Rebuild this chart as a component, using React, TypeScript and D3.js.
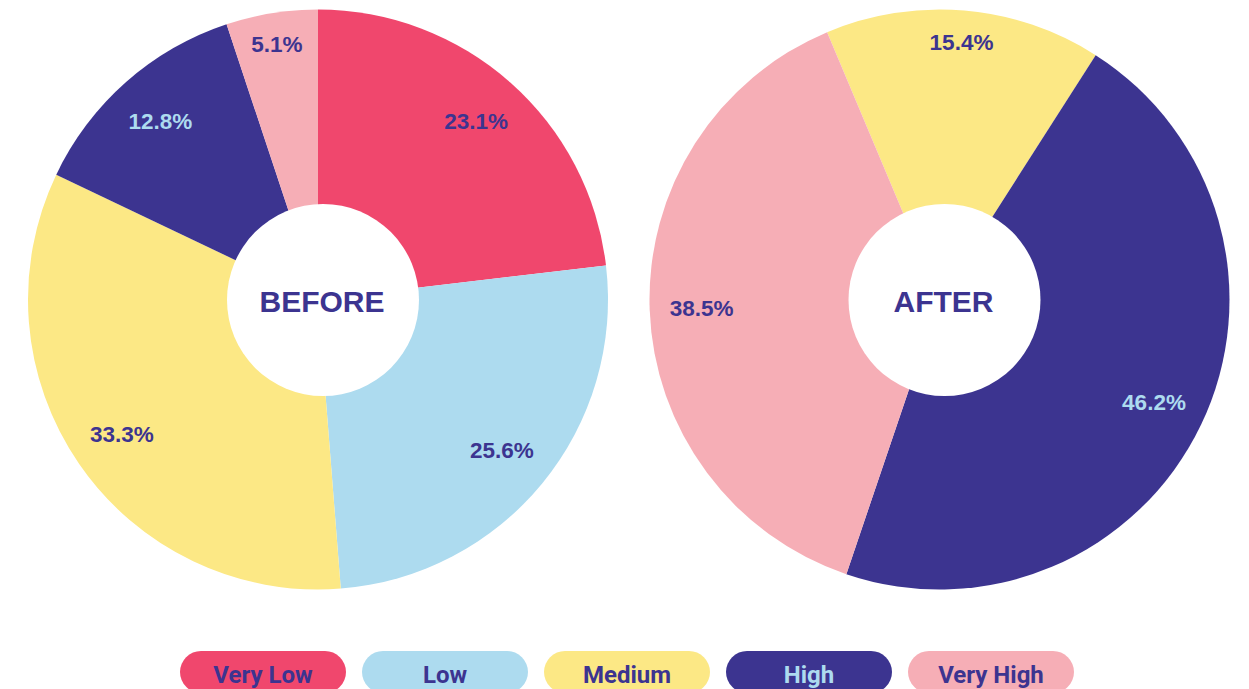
import React, { useRef, useEffect } from 'react'
import * as d3 from 'd3'

// categories and colours
const categories = ['Very Low', 'Low', 'Medium', 'High', 'Very High']
const sliceColors = ['#F0476D', '#ADDBEF', '#FCE885', '#3C3490', '#F6AEB6']
const labelColors = ['#3C3490', '#3C3490', '#3C3490', '#ADDBEF', '#3C3490']

// percent values per category
const beforeValues = [23.1, 25.6, 33.3, 12.8, 5.1]
const afterValues = [0, 0, 15.4, 46.2, 38.5]

const pieTitles = ['BEFORE', 'AFTER']

const W = 1249
const H = 689

export default function App() {
    const svgRef = useRef<SVGSVGElement>(null)

    useEffect(() => {
        const svg = d3.select(svgRef.current)
        svg.selectAll('*').remove()

        const radius = 290
        const holeR = 96
        const cy = 299.5
        const centers = [318, 939.5]
        const starts = [0, (-22.8 * Math.PI) / 180]

        const arc = d3.arc<d3.PieArcDatum<number>>().innerRadius(0).outerRadius(radius)

        const labelR = (a: number) => (Math.cos(a) > 0.95 ? 258 : 238)

        ;[beforeValues, afterValues].forEach((values, k) => {
            const pie = d3
                .pie<number>()
                .sort(null)
                .value((d) => d)
                .startAngle(starts[k])
                .endAngle(starts[k] + Math.PI * 2)
            const arcs = pie(values)

            const g = svg.append('g').attr('transform', `translate(${centers[k]},${cy})`)

            g.selectAll('path')
                .data(arcs)
                .enter()
                .append('path')
                .attr('d', arc)
                .attr('fill', (d, i) => sliceColors[i])

            // 百分比标签
            g.selectAll('text.pct')
                .data(arcs.filter((d) => d.value > 0))
                .enter()
                .append('text')
                .attr('class', 'pct')
                .attr('x', (d) => {
                    const a = (d.startAngle + d.endAngle) / 2
                    return labelR(a) * Math.sin(a)
                })
                .attr('y', (d) => {
                    const a = (d.startAngle + d.endAngle) / 2
                    return -labelR(a) * Math.cos(a)
                })
                .attr('dy', '0.34em')
                .attr('text-anchor', 'middle')
                .style('font-family', '"Liberation Sans", Arial, sans-serif')
                .style('font-weight', 700)
                .style('font-size', '22.5px')
                .attr('fill', (d) => labelColors[d.index])
                .text((d) => `${d.value}%`)

            // 中间白色圆
            g.append('circle')
                .attr('cx', 5)
                .attr('cy', 0.5)
                .attr('r', holeR)
                .attr('fill', '#fff')

            g.append('text')
                .attr('x', 4)
                .attr('y', 12)
                .attr('text-anchor', 'middle')
                .style('font-family', '"Liberation Sans", Arial, sans-serif')
                .style('font-weight', 700)
                .style('font-size', '30px')
                .attr('fill', '#3C3490')
                .text(pieTitles[k])
        })

        // 图例
        const pillH = 42
        const legendX = d3
            .scaleBand<string>()
            .domain(categories)
            .range([180, 1074])
            .paddingInner(16 / 182)
            .paddingOuter(0)
        const pillW = legendX.bandwidth()

        const legend = svg
            .selectAll('g.legend')
            .data(categories)
            .enter()
            .append('g')
            .attr('class', 'legend')
            .attr('transform', (d) => `translate(${legendX(d)},651)`)

        legend
            .append('rect')
            .attr('width', pillW)
            .attr('height', pillH)
            .attr('rx', 21)
            .attr('fill', (d, i) => sliceColors[i])

        legend
            .append('text')
            .attr('x', pillW / 2)
            .attr('y', 32)
            .attr('text-anchor', 'middle')
            .style('font-family', 'Roboto, sans-serif')
            .style('font-weight', 700)
            .style('font-size', '24px')
            .attr('fill', (d, i) => labelColors[i])
            .text((d) => d)
    }, [])

    return (
        <svg
            ref={svgRef}
            width={W}
            height={H}
            style={{ position: 'absolute', left: 0, top: 0, background: '#fff' }}
        />
    )
}
